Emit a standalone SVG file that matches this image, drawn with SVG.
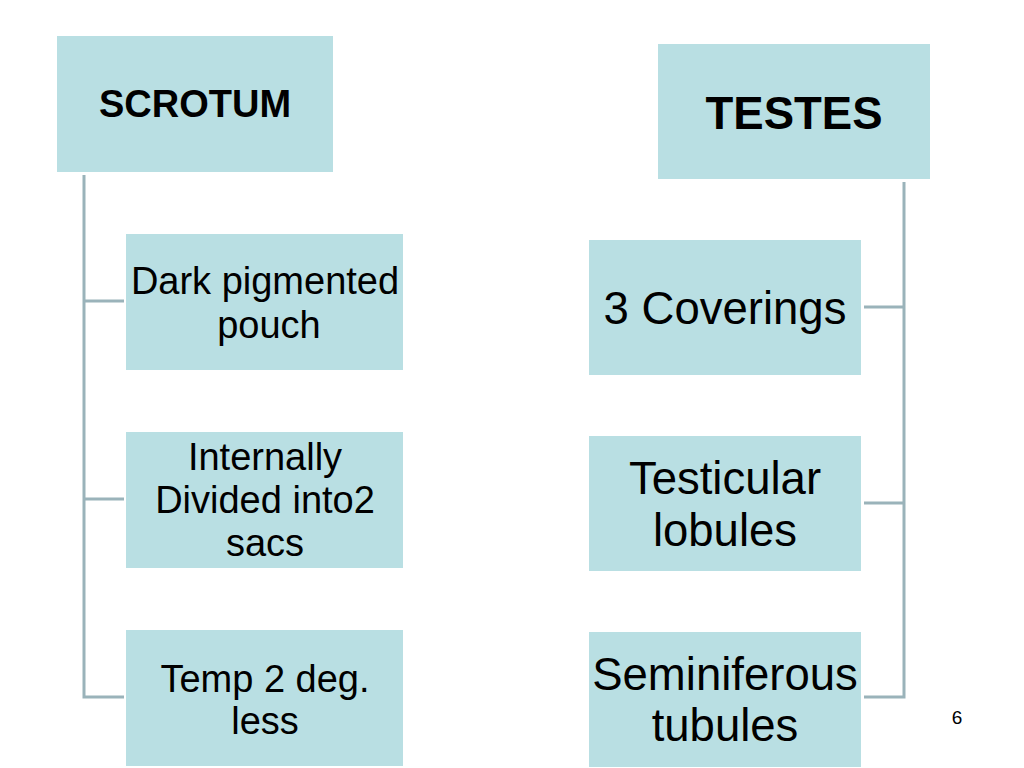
<svg xmlns="http://www.w3.org/2000/svg" width="1024" height="768" viewBox="0 0 1024 768">
<style>
.box{fill:#B9DFE3;}
.t{font-family:"Liberation Sans",Arial,sans-serif;fill:#000;text-anchor:middle;}
.s{font-size:38px;}
.l{font-size:45.5px;}
.c{stroke:#9AB3BA;stroke-width:3;fill:none;}
</style>
<rect width="1024" height="768" fill="#fff"/>
<g id="connectors">
<path class="c" d="M84 175 V697 H124 M84 301 H124 M84 499 H124"/>
<path class="c" d="M904 182 V697 H864 M904 307 H864 M904 503 H864"/>
</g>
<g id="scrotum"><rect class="box" x="57" y="36" width="276" height="136"/><text class="t" x="195" y="117" font-size="38" font-weight="bold">SCROTUM</text></g>
<g id="testes"><rect class="box" x="658" y="44" width="272" height="135"/><text class="t" x="794" y="129" font-size="45.5" font-weight="bold">TESTES</text></g>
<g id="pouch"><rect class="box" x="126" y="234" width="277" height="136"/><text class="t s" x="265" y="294">Dark pigmented</text><text class="t s" x="269" y="338">pouch</text></g>
<g id="sacs"><rect class="box" x="126" y="432" width="277" height="136"/><text class="t s" x="265" y="470">Internally</text><text class="t s" x="265" y="513">Divided into2</text><text class="t s" x="265" y="556">sacs</text></g>
<g id="temp"><rect class="box" x="126" y="630" width="277" height="136"/><text class="t s" x="265" y="692">Temp 2 deg.</text><text class="t s" x="265" y="734">less</text></g>
<g id="coverings"><rect class="box" x="589" y="240" width="272" height="135"/><text class="t l" x="725" y="324">3 Coverings</text></g>
<g id="lobules"><rect class="box" x="589" y="436" width="272" height="135"/><text class="t l" x="725" y="494">Testicular</text><text class="t l" x="725" y="546">lobules</text></g>
<g id="tubules"><rect class="box" x="589" y="632" width="272" height="135"/><text class="t l" x="725" y="690">Seminiferous</text><text class="t l" x="725" y="741">tubules</text></g>
<text class="t" x="957" y="724" font-size="19">6</text>
</svg>
